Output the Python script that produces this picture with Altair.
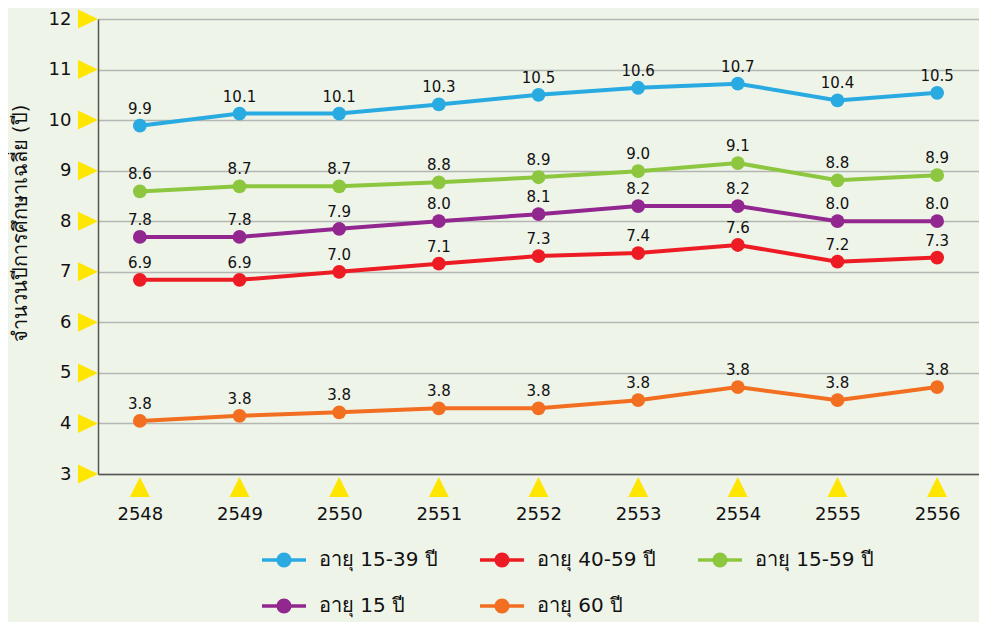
import altair as alt
import pandas as pd

years = ["2548", "2549", "2550", "2551", "2552", "2553", "2554", "2555", "2556"]
series = ["อายุ 15-39 ปี", "อายุ 40-59 ปี", "อายุ 15-59 ปี", "อายุ 15 ปี", "อายุ 60 ปี"]
colors = ["#29abe2", "#ed1c24", "#8dc63f", "#92278f", "#f26f21"]

v_15_39 = [9.89, 10.13, 10.13, 10.31, 10.50, 10.64, 10.72, 10.39, 10.54]
v_40_59 = [6.84, 6.84, 7.00, 7.16, 7.31, 7.37, 7.53, 7.20, 7.28]
v_15_59 = [8.59, 8.69, 8.69, 8.77, 8.87, 8.99, 9.15, 8.81, 8.91]
v_15 = [7.69, 7.69, 7.85, 8.00, 8.14, 8.30, 8.30, 8.00, 8.00]
v_60 = [4.05, 4.15, 4.22, 4.30, 4.30, 4.46, 4.72, 4.46, 4.72]

l_15_39 = ["9.9", "10.1", "10.1", "10.3", "10.5", "10.6", "10.7", "10.4", "10.5"]
l_40_59 = ["6.9", "6.9", "7.0", "7.1", "7.3", "7.4", "7.6", "7.2", "7.3"]
l_15_59 = ["8.6", "8.7", "8.7", "8.8", "8.9", "9.0", "9.1", "8.8", "8.9"]
l_15 = ["7.8", "7.8", "7.9", "8.0", "8.1", "8.2", "8.2", "8.0", "8.0"]
l_60 = ["3.8", "3.8", "3.8", "3.8", "3.8", "3.8", "3.8", "3.8", "3.8"]

y_ticks = [3, 4, 5, 6, 7, 8, 9, 10, 11, 12]

rows = []
for name, vals, labs in zip(series, [v_15_39, v_40_59, v_15_59, v_15, v_60],
                            [l_15_39, l_40_59, l_15_59, l_15, l_60]):
    for yr, v, lb in zip(years, vals, labs):
        rows.append({"year": yr, "series": name, "value": v, "label": lb})
df = pd.DataFrame(rows)

FONT = "DejaVu Sans"
W, H = 881, 455

x_enc = alt.X("year:O", sort=years,
              scale=alt.Scale(type="point", padding=0.42),
              axis=alt.Axis(title=None, ticks=False, labelPadding=31, labelAngle=0,
                            labelFontSize=18, labelFont=FONT, labelColor="#111",
                            domainColor="#555", domainWidth=1.5, grid=False,
                            labelBaseline="top"))
y_scale = alt.Scale(domain=[3, 12], nice=False, zero=False)
y_enc = alt.Y("value:Q", scale=y_scale,
              axis=alt.Axis(title="จำนวนปีการศึกษาเฉลี่ย (ปี)", values=y_ticks,
                            ticks=False, labelPadding=27, labelFontSize=18,
                            labelFont=FONT, labelColor="#111", domainColor="#555",
                            domainWidth=1.5, grid=True, gridColor="#b4b6b4",
                            gridWidth=1.5, titleFontSize=20, titleFont=FONT,
                            titleFontWeight="normal", titleColor="#111",
                            titleX=-78, titleY=204, titleBaseline="middle"))

legend_path = ("M-1,-0.08L1,-0.08L1,0.08L-1,0.08Z "
               "M0.34,0A0.34,0.34 0 1,1 -0.34,0A0.34,0.34 0 1,1 0.34,0Z")

color_enc = alt.Color("series:N", sort=series,
                      scale=alt.Scale(domain=series, range=colors),
                      legend=alt.Legend(title=None, orient="none", legendX=164,
                                        legendY=519, columns=3, direction="horizontal",
                                        symbolType=legend_path, symbolSize=1936,
                                        symbolStrokeWidth=0, labelFontSize=20,
                                        labelFont=FONT, labelColor="#111",
                                        labelOffset=13, columnPadding=42,
                                        rowPadding=14, labelLimit=400, padding=0))

base = alt.Chart(df)

points = base.mark_point(filled=True, size=190, opacity=1).encode(
    x=x_enc, y=y_enc, color=color_enc)
lines = base.mark_line(strokeWidth=4).encode(
    x=x_enc, y=y_enc, color=alt.Color("series:N", sort=series,
                                      scale=alt.Scale(domain=series, range=colors)),
    detail="series:N")
texts = base.mark_text(dy=-17, fontSize=15, font=FONT, color="#111").encode(
    x=x_enc, y=y_enc, text="label:N")

tri_y = alt.Chart(pd.DataFrame({"value": y_ticks})).mark_point(
    shape="M-1,-0.95L1,0L-1,0.95Z", size=400, filled=True, fill="#ffe600",
    opacity=1).encode(
    y=alt.Y("value:Q", scale=y_scale), x=alt.value(-10))
tri_x = alt.Chart(pd.DataFrame({"year": years})).mark_point(
    shape="M0,-1L1,1L-1,1Z", size=400, filled=True, fill="#ffe600",
    opacity=1).encode(
    x=alt.X("year:O", sort=years, scale=alt.Scale(type="point", padding=0.42)),
    y=alt.value(H + 13))

chart = alt.layer(points, lines, texts, tri_y, tri_x).properties(
    width=W, height=H,
    autosize=alt.AutoSizeParams(type="none"),
    padding={"left": 90, "top": 11, "right": 0, "bottom": 148},
    background="#eff4e9",
).configure_view(stroke=None)

chart.save("out.html", embed_options={"renderer": "svg", "actions": False})
